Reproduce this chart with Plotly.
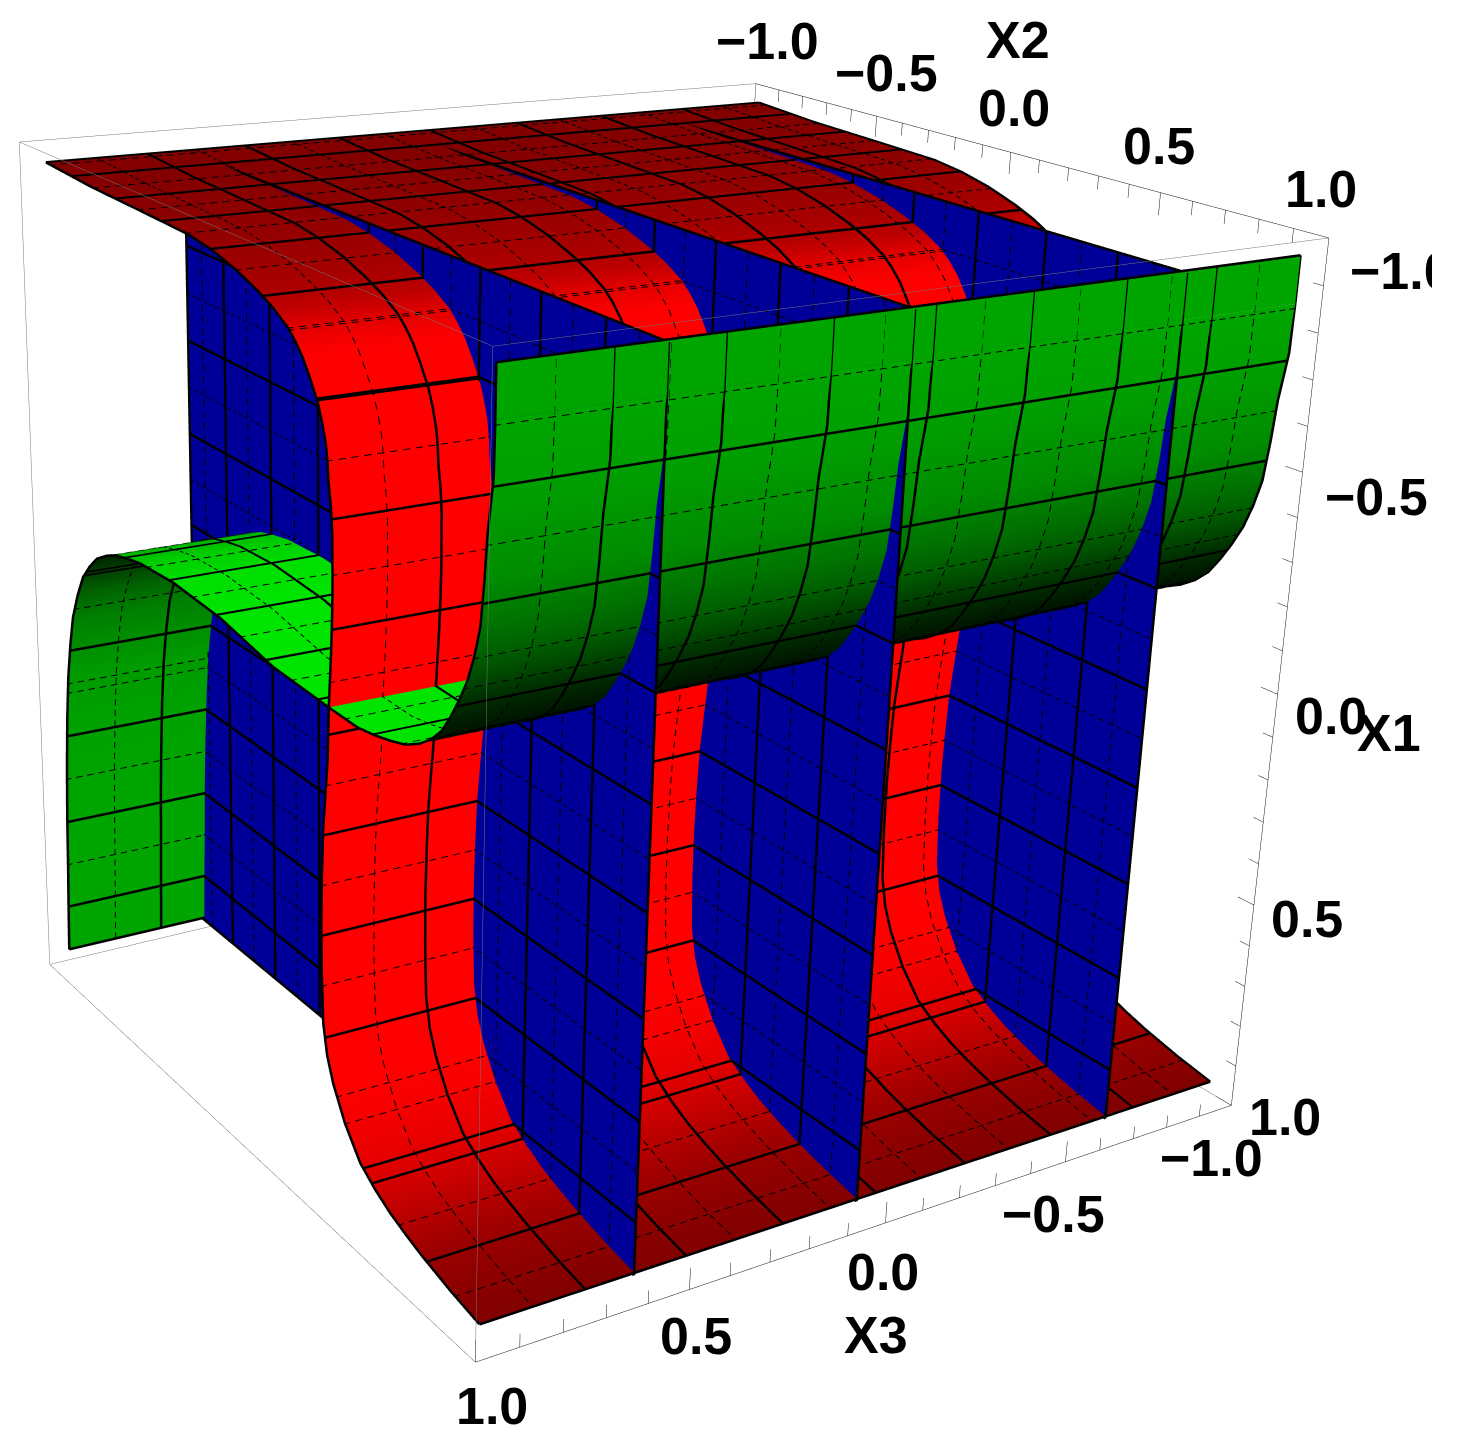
import numpy as np
import plotly.graph_objects as go

# Sheet profiles: (X2, X1) pairs plus a brightness level
red_x2 = [-0.88, -0.65, -0.40, -0.18, -0.08, 0.02, 0.115, 0.18, 0.24, 0.27, 0.30, 0.33, 0.36, 0.377, 0.39, 0.397, 0.40, 0.41, 0.415, 0.416, 0.414, 0.41, 0.405, 0.40, 0.395, 0.385, 0.375, 0.37, 0.367, 0.368, 0.374, 0.39, 0.416, 0.465, 0.529, 0.59, 0.652, 0.715, 0.78, 0.89, 1.0]
red_x1 = [-0.975, -0.965, -0.96, -0.955, -0.945, -0.928, -0.905, -0.885, -0.86, -0.84, -0.815, -0.78, -0.74, -0.705, -0.67, -0.635, -0.60, -0.55, -0.50, -0.40, -0.33, -0.26, -0.20, -0.14, -0.03, 0.05, 0.135, 0.23, 0.328, 0.44, 0.555, 0.62, 0.673, 0.74, 0.80, 0.83, 0.853, 0.87, 0.885, 0.905, 0.92]
red_level = [130, 132, 138, 145, 152, 160, 172, 190, 225, 240, 255, 255, 255, 255, 255, 255, 255, 255, 255, 255, 255, 255, 255, 255, 255, 255, 255, 255, 255, 255, 255, 255, 255, 245, 230, 210, 190, 172, 155, 140, 128]

green_x2 = [-0.90, -0.895, -0.89, -0.885, -0.877, -0.866, -0.852, -0.834, -0.814, -0.784, -0.751, -0.712, -0.672, -0.62, -0.575, -0.51, -0.447, -0.285, -0.065, 0.169, 0.406, 0.514, 0.58, 0.642, 0.699, 0.75, 0.792, 0.83, 0.860, 0.89, 0.918, 0.94, 0.959, 0.97, 0.978, 0.987, 0.995, 1.0, 1.0]
green_x1 = [0.92, 0.80, 0.70, 0.57, 0.443, 0.32, 0.211, 0.125, 0.052, -0.01, -0.063, -0.10, -0.130, -0.152, -0.166, -0.177, -0.185, -0.190, -0.179, -0.148, -0.140, -0.138, -0.145, -0.155, -0.167, -0.187, -0.210, -0.24, -0.277, -0.32, -0.367, -0.42, -0.481, -0.57, -0.660, -0.715, -0.766, -0.87, -0.97]
green_level = [165, 165, 165, 165, 163, 160, 155, 140, 125, 100, 70, 50, 40, 35, 180, 190, 205, 222, 228, 228, 228, 228, 228, 226, 225, 20, 20, 25, 35, 50, 72, 95, 115, 140, 150, 157, 161, 165, 165]

sheet_x3 = [-0.925, -0.45, 0.05, 0.55, 0.99]

blue_x3 = [0.635, 0.08, -0.61]
blue_x2 = [-0.93, 0.05, 1.0]
blue_x1 = [-0.965, 0.05, 0.925]

# Mesh line levels
x1_thick = [-0.748, -0.526, -0.304, -0.082, 0.14, 0.362, 0.584, 0.806]
x1_thin = [-0.859, -0.637, -0.415, -0.193, 0.029, 0.251, 0.473, 0.695]
x2_thick = [-0.744, -0.524, -0.304, -0.084, 0.136, 0.356, 0.576, 0.796]
x2_thin = [-0.854, -0.634, -0.414, -0.194, 0.026, 0.246, 0.466, 0.686, 0.906]
x3_thick = [-0.69, -0.45, -0.21, 0.03, 0.27, 0.51, 0.75]
x3_thin = [-0.81, -0.57, -0.33, -0.09, 0.15, 0.39, 0.63, 0.87]

tick_major = [-1.0, -0.5, 0.0, 0.5, 1.0]
tick_minor = [-0.9, -0.8, -0.7, -0.6, -0.4, -0.3, -0.2, -0.1, 0.1, 0.2, 0.3, 0.4, 0.6, 0.7, 0.8, 0.9]
tick_text = ["\u22121.0", "\u22120.5", "0.0", "0.5", "1.0"]

# Label offsets from the tick position, in pixels
x1_shift = [(73, 33), (74, 25), (53, 22), (53, 14), (54, 12)]
x2_shift = [(12, -43), (10, -43), (3, -44), (-2, -47), (-8, -49)]
x3_shift = [(-20, 53), (-12, 52), (-3, 49), (6, 47), (17, 44)]

LIGHT = dict(ambient=1, diffuse=0, specular=0, roughness=1, fresnel=0)
NOCONT = {a: dict(show=False, highlight=False) for a in "xyz"}
TOWARD_EYE = np.array([0.54, 0.77, 0.34]) * 0.004
DASH_ON, DASH_OFF = 0.016, 0.012

fig = go.Figure()


def add_surface(X, Y, Z, C, scale, cmin, cmax):
    fig.add_trace(go.Surface(x=X, y=Y, z=Z, surfacecolor=C, colorscale=scale, cmin=cmin, cmax=cmax,
                             showscale=False, hoverinfo="skip", lighting=LIGHT, contours=NOCONT))


def line_trace(paths, color, width):
    xs, ys, zs = [], [], []
    for path in paths:
        for px, py, pz in path:
            xs.append(px)
            ys.append(py)
            zs.append(pz)
        xs.append(None)
        ys.append(None)
        zs.append(None)
    fig.add_trace(go.Scatter3d(x=xs, y=ys, z=zs, mode="lines", line=dict(color=color, width=width),
                               hoverinfo="skip", showlegend=False, connectgaps=False))


def P(x3, x2, x1):
    return (x3, x2, -x1)


def on_sheet(x3, x2, x1):
    q = np.array(P(x3, x2, x1), dtype=float) + TOWARD_EYE
    return tuple(np.clip(q, -1, 1).tolist())


def crossings(values, levels, a, b):
    out = []
    for lv in levels:
        for i in range(len(values) - 1):
            if (values[i] - lv) * (values[i + 1] - lv) < 0:
                t = (lv - values[i]) / (values[i + 1] - values[i])
                out.append((a[i] + t * (a[i + 1] - a[i]), b[i] + t * (b[i + 1] - b[i])))
    return out


def dashed(path):
    pts = np.array(path, dtype=float)
    seg = np.linalg.norm(np.diff(pts, axis=0), axis=1)
    s = np.concatenate([[0.0], np.cumsum(seg)])
    out = []
    start = 0.0
    while start < s[-1]:
        stop = min(start + DASH_ON, s[-1])
        ss = [start] + [v for v in s if start < v < stop] + [stop]
        out.append([tuple(np.interp(v, s, pts[:, k]) for k in range(3)) for v in ss])
        start = stop + DASH_OFF
    return out


thick_paths, thin_paths = [], []
x3_lo, x3_hi = sheet_x3[0], sheet_x3[-1]

for p2, p1, lev, top in ((red_x2, red_x1, red_level, "rgb(255,0,0)"),
                         (green_x2, green_x1, green_level, "rgb(0,255,0)")):
    n, m = len(p2), len(sheet_x3)
    X = np.tile(np.array(sheet_x3), (n, 1))
    Y = np.tile(np.array(p2)[:, None], (1, m))
    Z = np.tile(-np.array(p1)[:, None], (1, m))
    C = np.tile(np.array(lev, dtype=float)[:, None], (1, m))
    add_surface(X, Y, Z, C, [[0, "rgb(0,0,0)"], [1, top]], 0, 255)

    for x3 in [x3_lo, x3_hi] + x3_thick:
        thick_paths.append([on_sheet(x3, a, b) for a, b in zip(p2, p1)])
    for x3 in x3_thin:
        thin_paths.append([on_sheet(x3, a, b) for a, b in zip(p2, p1)])
    ends = [(p2[0], p1[0]), (p2[-1], p1[-1])]
    for a, b in ends + crossings(p1, x1_thick, p2, p1) + crossings(p2, x2_thick, p2, p1):
        thick_paths.append([on_sheet(x3_lo, a, b), on_sheet(x3_hi, a, b)])
    for a, b in crossings(p1, x1_thin, p2, p1) + crossings(p2, x2_thin, p2, p1):
        thin_paths.append([on_sheet(x3_lo, a, b), on_sheet(x3_hi, a, b)])

for v in blue_x3:
    Yb, Zb = np.meshgrid(blue_x2, -np.array(blue_x1))
    Xb = np.full_like(Yb, v, dtype=float)
    add_surface(Xb, Yb, Zb, np.zeros_like(Yb), [[0, "rgb(0,0,153)"], [1, "rgb(0,0,153)"]], 0, 1)
    x2a, x2b, x1a, x1b = blue_x2[0], blue_x2[-1], blue_x1[0], blue_x1[-1]
    for c in [x2a, x2b] + x2_thick:
        thick_paths.append([on_sheet(v, c, x1a), on_sheet(v, c, x1b)])
    for c in [x1a, x1b] + x1_thick:
        thick_paths.append([on_sheet(v, x2a, c), on_sheet(v, x2b, c)])
    for c in x2_thin:
        thin_paths.append([on_sheet(v, c, x1a), on_sheet(v, c, x1b)])
    for c in x1_thin:
        thin_paths.append([on_sheet(v, x2a, c), on_sheet(v, x2b, c)])

line_trace(thick_paths, "black", 5)
line_trace([d for p in thin_paths for d in dashed(p)], "black", 2)

grey = []
for a in (-1, 1):
    for b in (-1, 1):
        if not (a == -1 and b == 1):
            grey.append([P(a, b, -1), P(a, b, 1)])
        if not (a == -1 and b == -1):
            grey.append([P(a, -1, b), P(a, 1, b)])
        if not (a == 1 and b == 1):
            grey.append([P(-1, a, b), P(1, a, b)])
line_trace(grey, "rgb(120,120,120)", 1)

axis_lines = [[P(-1, 1, -1), P(-1, 1, 1)], [P(-1, -1, -1), P(-1, 1, -1)], [P(-1, 1, 1), P(1, 1, 1)]]
ticks = []
for vals, ln in ((tick_major, 0.05), (tick_minor, 0.03)):
    for t in vals:
        ticks.append([P(-1, 1, t), P(-1, 1 - ln, t)])
        ticks.append([P(-1, t, -1), P(-1, t, -1 + ln)])
        ticks.append([P(t, 1, 1), P(t, 1, 1 - ln)])
line_trace(axis_lines + ticks, "rgb(20,20,20)", 1)

FONT = dict(family="Liberation Sans", size=52, color="black", weight="bold")


def ann(pos, text, shift):
    return dict(x=pos[0], y=pos[1], z=pos[2], text=text, showarrow=False, font=FONT,
                xanchor="center", yanchor="middle", xshift=shift[0], yshift=-shift[1])


anns = []
for t, lab, s1, s2, s3 in zip(tick_major, tick_text, x1_shift, x2_shift, x3_shift):
    anns.append(ann(P(-1, 1, t), lab, s1))
    anns.append(ann(P(-1, t, -1), lab, s2))
    anns.append(ann(P(t, 1, 1), lab, s3))
anns.append(ann(P(-1, 1, 0), "X1", (111, 39)))
anns.append(ann(P(-1, 0, -1), "X2", (7, -112)))
anns.append(ann(P(0, 1, 1), "X3", (-10, 112)))

hidden = dict(visible=False, range=[-1, 1], showspikes=False)
fig.update_layout(
    width=2513, height=2513, margin=dict(l=0, r=0, t=0, b=0), autosize=False,
    paper_bgcolor="white", showlegend=False,
    scene=dict(
        xaxis=hidden, yaxis=hidden, zaxis=hidden,
        aspectmode="manual", aspectratio=dict(x=1, y=1, z=1),
        domain=dict(x=[0, 1], y=[0, 1]),
        camera=dict(eye=dict(x=1.8075, y=2.6315, z=1.1405),
                    center=dict(x=-0.0242, y=0.0252, z=-0.0185),
                    up=dict(x=-0.1652, y=-0.3018, z=0.939),
                    projection=dict(type="perspective")),
        annotations=anns,
    ),
)

post = """
var gd = document.getElementById('{plot_id}');
document.documentElement.style.overflow = 'hidden';
document.body.style.margin = '0';
document.body.style.overflow = 'hidden';
var w = gd.parentElement;
w.style.cssText = 'position:fixed;left:0;top:0;width:1432px;height:1442px;overflow:hidden;background:#fff';
gd.style.cssText = 'position:absolute;left:-591px;top:-606px;width:2513px;height:2513px';
"""
fig.write_html("out.html", config=dict(displayModeBar=False), post_script=post)
